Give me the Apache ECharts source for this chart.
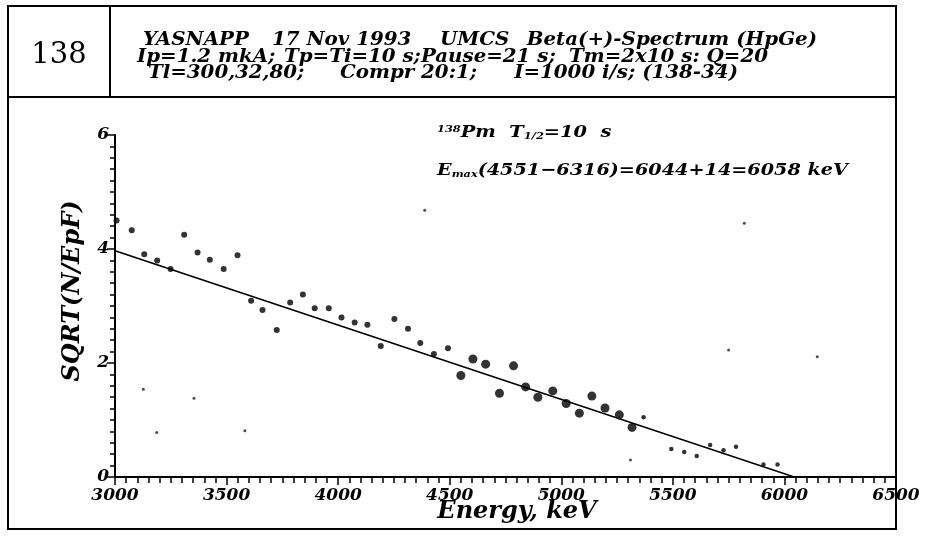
<!DOCTYPE html>
<html>
<head>
<meta charset="UTF-8">
<title>138Pm beta spectrum</title>
<script src="https://cdn.jsdelivr.net/npm/echarts@6/dist/echarts.min.js"></script>
<style>
  html, body { margin: 0; padding: 0; background: #fff; }
  #chart { width: 925px; height: 537px; }
</style>
</head>
<body>
<div id="chart"></div>
<script>
// energies (keV) and SQRT(N/EpF)
var midE   = [3007, 3075, 3131, 3189, 3249, 3310, 3370, 3425, 3487, 3549, 3610, 3661, 3725, 3785, 3842, 3895, 3958, 4015, 4074, 4131, 4191, 4252, 4313, 4368, 4429, 4492];
var midY   = [4.50, 4.33, 3.91, 3.80, 3.65, 4.25, 3.94, 3.81, 3.65, 3.89, 3.09, 2.93, 2.58, 3.06, 3.20, 2.96, 2.96, 2.80, 2.71, 2.67, 2.30, 2.77, 2.60, 2.35, 2.16, 2.26];
var bigE   = [4550, 4604, 4661, 4723, 4786, 4840, 4895, 4962, 5022, 5081, 5137, 5196, 5260, 5317];
var bigY   = [1.78, 2.07, 1.98, 1.47, 1.95, 1.58, 1.40, 1.51, 1.29, 1.12, 1.42, 1.21, 1.09, 0.87];
var tinyE  = [5369, 5493, 5551, 5607, 5667, 5727, 5783, 5906, 5969];
var tinyY  = [1.05, 0.49, 0.44, 0.37, 0.56, 0.47, 0.53, 0.22, 0.22];
// stray specks on the sheet
var speckE = [3127, 3187, 3354, 3582, 4388, 5750, 5820, 6147, 5310];
var speckY = [1.54, 0.78, 1.38, 0.81, 4.68, 2.23, 4.45, 2.11, 0.30];
// straight-line fit
var fitE   = [3000, 6044, 6500];
var fitY   = [3.97, 0.00, 0.00];
var xTicks = [3000, 3500, 4000, 4500, 5000, 5500, 6000, 6500];
var yTicks = [0, 2, 4, 6];

function pairs(a, b) {
  var out = [];
  for (var i = 0; i < a.length; i++) out.push([a[i], b[i]]);
  return out;
}

var serif = 'DejaVu Serif';
var HS = 1.1; // header glyphs are a bit wider than DejaVu

// header text piece, anchored left (or right)
function htxt(x, y, s, align) {
  return { type: 'text', x: x, y: y, scaleX: HS,
    style: { text: s, fontFamily: serif, fontStyle: 'italic', fontWeight: 'bold', fontSize: 18,
      fill: '#000', textAlign: align || 'left', textVerticalAlign: 'middle' } };
}

var bi = { fontFamily: serif, fontStyle: 'italic', fontWeight: 'bold', fill: '#000' };

var chart = echarts.init(document.getElementById('chart'));
chart.setOption({
  animation: false,
  grid: { left: 115, right: 29, top: 135, bottom: 60 },
  xAxis: {
    type: 'value', min: 3000, max: 6500, interval: 500,
    axisLine: { lineStyle: { color: '#000', width: 2 } },
    axisTick: { length: 8, lineStyle: { color: '#000', width: 1.5 } },
    minorTick: { show: true, splitNumber: 10, length: 6, lineStyle: { color: '#000', width: 1.5 } },
    splitLine: { show: false },
    axisLabel: { color: '#000', fontFamily: serif, fontStyle: 'italic', fontWeight: 'bold', fontSize: 17, margin: 10,
      formatter: function (v) { return xTicks.indexOf(v) >= 0 ? String(v) : ''; } }
  },
  yAxis: {
    type: 'value', min: 0, max: 6, interval: 2,
    axisLine: { show: true, lineStyle: { color: '#000', width: 2 } },
    axisTick: { show: true, length: 8, lineStyle: { color: '#000', width: 1.5 } },
    minorTick: { show: true, splitNumber: 10, length: 5, lineStyle: { color: '#000', width: 1.5 } },
    splitLine: { show: false },
    axisLabel: { color: '#000', fontFamily: serif, fontStyle: 'italic', fontWeight: 'bold', fontSize: 17, margin: 6,
      formatter: function (v) { return yTicks.indexOf(v) >= 0 ? String(v) : ''; } }
  },
  series: [
    { type: 'line', data: pairs(fitE, fitY), symbol: 'none', lineStyle: { color: '#000', width: 1.6 }, z: 3 },
    { type: 'scatter', data: pairs(midE, midY), symbolSize: 6, itemStyle: { color: '#000' } },
    { type: 'scatter', data: pairs(bigE, bigY), symbolSize: 9, itemStyle: { color: '#000' } },
    { type: 'scatter', data: pairs(tinyE, tinyY), symbolSize: 4.5, itemStyle: { color: '#000' } },
    { type: 'scatter', data: pairs(speckE, speckY), symbolSize: 3, itemStyle: { color: '#222' } }
  ],
  graphic: [
    // frame
    { type: 'rect', shape: { x: 8, y: 6, width: 888, height: 523 }, style: { fill: 'none', stroke: '#000', lineWidth: 2 } },
    { type: 'line', shape: { x1: 8, y1: 97, x2: 896, y2: 97 }, style: { stroke: '#000', lineWidth: 2 } },
    { type: 'line', shape: { x1: 110, y1: 6, x2: 110, y2: 97 }, style: { stroke: '#000', lineWidth: 2 } },
    { type: 'text', x: 59, y: 55, style: { text: '138', fontFamily: serif, fontSize: 29, fill: '#000', textAlign: 'center', textVerticalAlign: 'middle' } },
    // header
    htxt(143, 40, 'YASNAPP'),
    htxt(272, 40, '17 Nov 1993'),
    htxt(440, 40, 'UMCS'),
    htxt(817, 40, 'Beta(+)-Spectrum (HpGe)', 'right'),
    htxt(137, 57, 'Ip=1.2 mkA;'),
    htxt(284, 57, 'Tp=Ti=10 s;Pause=21 s;'),
    htxt(768, 57, 'Tm=2x10 s: Q=20', 'right'),
    htxt(148, 73, 'Tl=300,32,80;'),
    htxt(340, 73, 'Compr 20:1;'),
    htxt(738, 73, 'I=1000 i/s; (138-34)', 'right'),
    // annotations
    { type: 'text', x: 437, y: 124, scaleX: 1.14, style: {
        text: '{s|138}{n|Pm  T}{b|1/2}{n|=10  s}',
        rich: {
          s: Object.assign({ fontSize: 10, verticalAlign: 'top' }, bi),
          n: Object.assign({ fontSize: 17 }, bi),
          b: Object.assign({ fontSize: 10, verticalAlign: 'bottom' }, bi)
        } } },
    { type: 'text', x: 437, y: 162, scaleX: 1.13, style: {
        text: '{n|E}{b|max}{n|(4551\u22126316)=6044+14=6058 keV}',
        rich: {
          n: Object.assign({ fontSize: 17 }, bi),
          b: Object.assign({ fontSize: 10, verticalAlign: 'bottom' }, bi)
        } } },
    // axis titles
    { type: 'text', x: 73, y: 291, rotation: Math.PI / 2, style: { text: 'SQRT(N/EpF)', fontFamily: serif, fontStyle: 'italic', fontWeight: 'bold', fontSize: 24, fill: '#000', textAlign: 'center', textVerticalAlign: 'middle' } },
    { type: 'text', x: 517, y: 512, style: { text: 'Energy, keV', fontFamily: serif, fontStyle: 'italic', fontWeight: 'bold', fontSize: 24, fill: '#000', textAlign: 'center', textVerticalAlign: 'middle' } }
  ]
});
</script>
</body>
</html>
